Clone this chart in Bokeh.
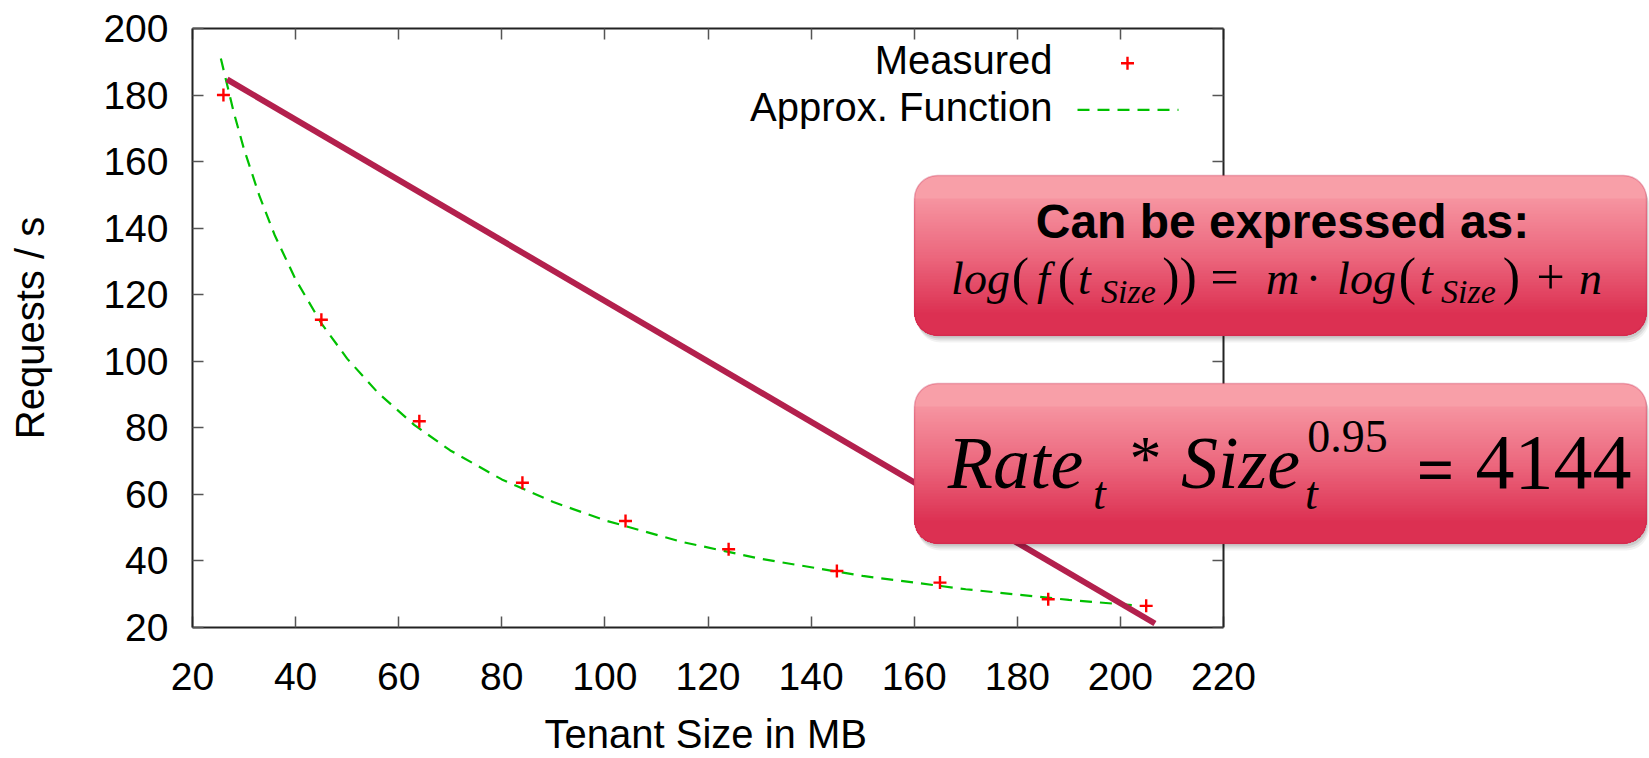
from bokeh.plotting import figure
from bokeh.models import (Range1d, FixedTicker, LinearAxis, CustomJSTickFormatter,
                          BoxAnnotation, Label, Title)
from bokeh.embed import file_html
from bokeh.resources import INLINE

# ---------------- data ----------------
size_mb = [26, 45, 64, 84, 104, 124, 145, 165, 186, 205]
requests_measured = [180, 112.5, 82, 63.5, 52, 43.5, 37, 33.5, 28.5, 26.5]

approx_size = [25.5, 28, 30, 33, 36, 40, 45, 50, 56, 63, 70, 80, 90, 100,
               115, 130, 150, 170, 190, 203]
approx_requests = [191, 174.8, 163.7, 149.6, 137.7, 124.6, 111.4, 100.8, 90.5,
                   80.9, 73.2, 64.5, 57.7, 52.2, 45.7, 40.7, 35.5, 31.5, 28.3, 26.6]

trend_size = [26.7, 206.7]
trend_requests = [184.7, 21.2]

x_ticks = [20, 40, 60, 80, 100, 120, 140, 160, 180, 200, 220]
y_ticks = [20, 40, 60, 80, 100, 120, 140, 160, 180, 200]

x_label = "Tenant Size in MB"
y_label = "Requests / s"
legend_labels = ["Measured", "Approx. Function"]
box1_title = "Can be expressed as:"

# ---------------- layout ----------------
W, H = 1649, 758
FRAME_L, PLOT_R, FRAME_T, FRAME_B = 192, 1223, 28, 627   # PLOT_R = pixel of x=220
X_MIN, X_MAX, Y_MIN, Y_MAX = 20, 220, 20, 200
X_SCALE = (X_MAX - X_MIN) / (PLOT_R - FRAME_L)
X_RIGHT = X_MIN + (W - FRAME_L) * X_SCALE   # frame runs to the page edge (for the callouts)


def dx(px):
    return X_MIN + (px - FRAME_L) * X_SCALE


def dy(py):
    return Y_MAX - (py - FRAME_T) * (Y_MAX - Y_MIN) / (FRAME_B - FRAME_T)


SANS = "Liberation Sans"
SERIF = "Liberation Serif"
BASE_SHIFT = 0.33   # label baseline correction (fraction of font size)

p = figure(width=W, height=H, output_backend="svg", toolbar_location=None, tools="",
           x_range=Range1d(X_MIN, X_RIGHT), y_range=Range1d(Y_MIN, Y_MAX),
           min_border_left=FRAME_L, min_border_right=0,
           min_border_top=FRAME_T, min_border_bottom=H - FRAME_B,
           y_axis_label=y_label)
p.outline_line_color = None
p.xgrid.visible = False
p.ygrid.visible = False
p.background_fill_color = "white"
p.border_fill_color = "white"


def style_axis(ax, ticks, show_labels):
    ax.ticker = FixedTicker(ticks=ticks)
    ax.major_tick_in = 11
    ax.major_tick_out = 0
    ax.minor_tick_line_color = None
    ax.major_tick_line_color = "#555555"
    ax.major_tick_line_width = 1.5
    ax.axis_line_color = "#222222"
    ax.axis_line_width = 2
    if show_labels:
        ax.major_label_text_font = SANS
        ax.major_label_text_font_size = "39px"
        ax.major_label_text_color = "black"
        ax.axis_label_text_font = SANS
        ax.axis_label_text_font_size = "40px"
        ax.axis_label_text_font_style = "normal"
        ax.axis_label_text_color = "black"
    else:
        ax.formatter = CustomJSTickFormatter(code="return ''")
        ax.major_label_standoff = 0


xa = p.xaxis[0]
ya = p.yaxis[0]
style_axis(xa, x_ticks, True)
style_axis(ya, y_ticks, True)
xa.bounds = (X_MIN, X_MAX)
xa.major_label_standoff = 35
ya.major_label_standoff = 24
ya.axis_label_standoff = 48

top_ax = LinearAxis(bounds=(X_MIN, X_MAX))
right_ax = LinearAxis(fixed_location=X_MAX)
style_axis(top_ax, x_ticks, False)
style_axis(right_ax, y_ticks, False)
p.add_layout(top_ax, "above")
p.add_layout(right_ax, "right")

# invisible spacer between the tick labels and the x caption
spacer = LinearAxis(ticker=FixedTicker(ticks=[X_MIN]), bounds=(X_MIN, X_MAX),
                    major_tick_out=19, major_tick_in=0,
                    axis_line_color=None, major_tick_line_color=None,
                    minor_tick_line_color=None, major_label_standoff=0,
                    formatter=CustomJSTickFormatter(code="return ''"))
p.add_layout(spacer, "below")

# x-axis caption, centred under the 20..220 axis (the frame extends further right)
X_LABEL_LEFT = 544
p.add_layout(Title(text=x_label, align="left", offset=X_LABEL_LEFT - FRAME_L,
                   vertical_align="top", standoff=0, text_font=SANS,
                   text_font_size="40px", text_font_style="normal",
                   text_color="black"), "below")

# ---------------- data glyphs ----------------
GREEN = "#00c000"
MAROON = "#b3204d"
p.line(approx_size, approx_requests, line_color=GREEN, line_width=2.2, line_dash="12 8")
p.scatter(size_mb, requests_measured, marker="cross", size=13, line_width=2.4,
          line_color="red")
p.line(trend_size, trend_requests, line_color=MAROON, line_width=6, line_cap="butt")


def seg(text, cx, baseline, size, style="normal", font=SERIF, align="center"):
    p.add_layout(Label(x=dx(cx), y=dy(baseline - BASE_SHIFT * size), text=text,
                       text_align=align, text_baseline="alphabetic", text_font=font,
                       text_font_size="%dpx" % size, text_font_style=style,
                       text_color="black"))


# ---------------- legend (text left, sample right, gnuplot style) ----------------
LEG_TEXT_RIGHT = 1052
LEG_BASELINES = [72.7, 120]
for lab, bl in zip(legend_labels, LEG_BASELINES):
    seg(lab, LEG_TEXT_RIGHT, bl, 40, "normal", SANS, "right")
p.scatter([dx(1127)], [dy(62.7)], marker="cross", size=13, line_width=2.4, line_color="red")
p.line([dx(1077), dx(1178)], [dy(109.3), dy(109.3)], line_color=GREEN, line_width=2.2,
       line_dash="12 8")

# ---------------- callout boxes ----------------
R = 23
STOPS = [(0.0, (250, 166, 174)), (0.5, (236, 104, 126)), (1.0, (214, 28, 66))]


def grad(t):
    t = max(0.0, min(1.0, t))
    for (t0, c0), (t1, c1) in zip(STOPS[:-1], STOPS[1:]):
        if t <= t1:
            f = (t - t0) / (t1 - t0)
            c = tuple(int(round(a + (b - a) * f)) for a, b in zip(c0, c1))
            return "#%02x%02x%02x" % c
    return "#%02x%02x%02x" % STOPS[-1][1]


def draw_box(left, top, right, bottom):
    for off, a in [(7, 0.05), (5, 0.07), (3, 0.09)]:
        p.add_layout(BoxAnnotation(left=dx(left + off * 0.4), right=dx(right + off * 0.4),
                                   top=dy(top + off), bottom=dy(bottom + off),
                                   fill_color="black", fill_alpha=a, line_color=None,
                                   border_radius=R))
    h = bottom - top
    p.add_layout(BoxAnnotation(left=dx(left), right=dx(right), top=dy(top), bottom=dy(bottom),
                               fill_color=grad(0.06), fill_alpha=1.0, line_color=None,
                               border_radius=R))
    y = top + R
    while y <= bottom - R:
        p.add_layout(BoxAnnotation(left=dx(left), right=dx(right), top=dy(y), bottom=dy(bottom),
                                   fill_color=grad((y - top + 1.5) / h), fill_alpha=1.0,
                                   line_color=None, border_radius=(0, 0, R, R)))
        y += 3
    p.add_layout(BoxAnnotation(left=dx(left), right=dx(right), top=dy(top), bottom=dy(bottom),
                               fill_color=None, fill_alpha=0, line_color="#c41e47",
                               line_width=1.5, border_radius=R))


draw_box(914, 175, 1646, 335)
draw_box(914, 383, 1646, 543)

# box 1 text
seg(box1_title, 1282, 236.7, 48, "bold", SANS)
MB, SB = 293, 302
for txt, cx, size, style in [("log", 980, 46, "italic"), ("(", 1020, 52, "normal"),
                             ("f", 1043, 46, "italic"), ("(", 1066, 52, "normal"),
                             ("t", 1084, 46, "italic"), ("))", 1179, 52, "normal"),
                             ("=", 1224, 50, "normal"), ("m", 1282, 46, "italic"),
                             ("\u00b7", 1313, 46, "normal"), ("log", 1366, 46, "italic"),
                             ("(", 1407, 52, "normal"), ("t", 1426, 46, "italic"),
                             (")", 1511, 52, "normal"), ("+", 1550, 50, "normal"),
                             ("n", 1590, 46, "italic")]:
    seg(txt, cx, MB, size, style)
seg("Size", 1128, SB, 34, "italic")
seg("Size", 1468, SB, 34, "italic")

# box 2 text
seg("Rate", 1015, 487, 74, "italic")
seg("t", 1099, 508, 46, "italic")
seg("*", 1145, 479, 64, "normal")
seg("Size", 1240, 487, 74, "italic")
seg("t", 1311, 508, 46, "italic")
seg("0.95", 1347, 451, 46, "normal")
seg("=", 1435, 491, 66, "bold")
seg("4144", 1553, 488, 78, "normal")

open("out.html", "w").write(file_html(p, INLINE))
